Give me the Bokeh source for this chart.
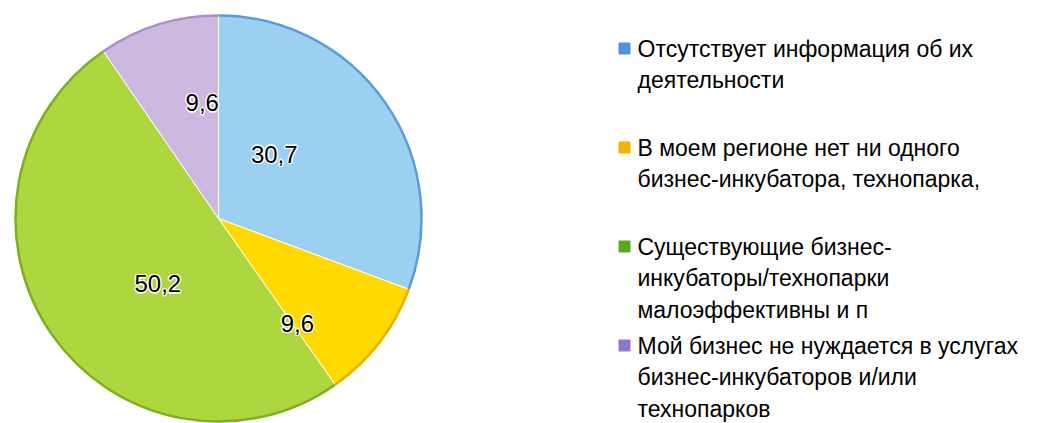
import math
from bokeh.plotting import figure
from bokeh.models import Range1d, ColumnDataSource
from bokeh.core.properties import value
from bokeh.embed import file_html
from bokeh.resources import INLINE

# ---- data ----
categories = [
    "Отсутствует информация об их деятельности",
    "В моем регионе нет ни одного бизнес-инкубатора, технопарка,",
    "Существующие бизнес-инкубаторы/технопарки малоэффективны и п",
    "Мой бизнес не нуждается в услугах бизнес-инкубаторов и/или технопарков",
]
values = [30.7, 9.6, 50.2, 9.6]
value_labels = ["30,7", "9,6", "50,2", "9,6"]
legend_lines = [
    ["Отсутствует информация об их", "деятельности"],
    ["В моем регионе нет ни одного", "бизнес-инкубатора, технопарка,"],
    ["Существующие бизнес-", "инкубаторы/технопарки", "малоэффективны и п"],
    ["Мой бизнес не нуждается в услугах", "бизнес-инкубаторов и/или", "технопарков"],
]

# ---- style ----
fill_colors = ["#9BD0F1", "#FFD900", "#AED63E", "#CDB9E0"]
edge_colors = ["#5A9BDB", "#EDB000", "#7FAE22", "#A990CF"]
marker_colors = ["#4F93DD", "#F2B400", "#5CA521", "#9274C8"]
label_angle_deg = [41, 143, 223, 352]   # label direction, clockwise from 12 o'clock
label_radius = [85, 131, 89, 117]
FONT = "Liberation Sans"

W, H = 1039, 423
p = figure(width=W, height=H, output_backend="svg", toolbar_location=None,
           x_range=Range1d(0, W), y_range=Range1d(-H, 0),
           min_border=0, outline_line_color=None)
p.axis.visible = False
p.grid.visible = False
p.background_fill_color = "white"
p.border_fill_color = "white"

cx, cy, R = 218, -218, 204
total = sum(values)
starts, ends = [], []
cum = 0.0
for v in values:
    starts.append(math.pi / 2 - cum / total * 2 * math.pi)
    cum += v
    ends.append(math.pi / 2 - cum / total * 2 * math.pi)

src = ColumnDataSource(dict(start=starts, end=ends, fill=fill_colors, edge=edge_colors,
                            cat=categories, val=values))
p.wedge(x=cx, y=cy, radius=R, start_angle="start", end_angle="end", direction="clock",
        fill_color="fill", line_color="white", line_width=1, source=src)
p.arc(x=cx, y=cy, radius=R - 1, start_angle="start", end_angle="end", direction="clock",
      line_color="edge", line_width=2.5, source=src)

lx = [cx + r * math.sin(math.radians(a)) for a, r in zip(label_angle_deg, label_radius)]
ly = [cy + r * math.cos(math.radians(a)) for a, r in zip(label_angle_deg, label_radius)]
# soft white glow behind the value labels
for dx, dy in [(-1.5, 0), (1.5, 0), (0, -1.5), (0, 1.5), (-1, -1), (1, 1), (-1, 1), (1, -1)]:
    p.text(x=lx, y=ly, text=value_labels, text_font=value(FONT), text_font_size="24px",
           text_align="center", text_baseline="middle", text_color="white",
           text_alpha=0.8, x_offset=dx, y_offset=dy)
p.text(x=lx, y=ly, text=value_labels, text_font=value(FONT), text_font_size="24px",
       text_align="center", text_baseline="middle", text_color="black")

# legend
mx, my, tx, ty, tt = [], [], [], [], []
for i, lines in enumerate(legend_lines):
    top = 48 + 99 * i
    mx.append(624)
    my.append(-top)
    for j, line in enumerate(lines):
        tx.append(637)
        ty.append(-(top + 31.5 * j))
        tt.append(line)
p.scatter(x=mx, y=my, marker="square", size=11, fill_color=marker_colors,
          line_color=marker_colors)
p.text(x=tx, y=ty, text=tt, text_font=value(FONT), text_font_size="23px",
       text_align="left", text_baseline="middle", text_color="black")

open("out.html", "w").write(file_html(p, INLINE))
